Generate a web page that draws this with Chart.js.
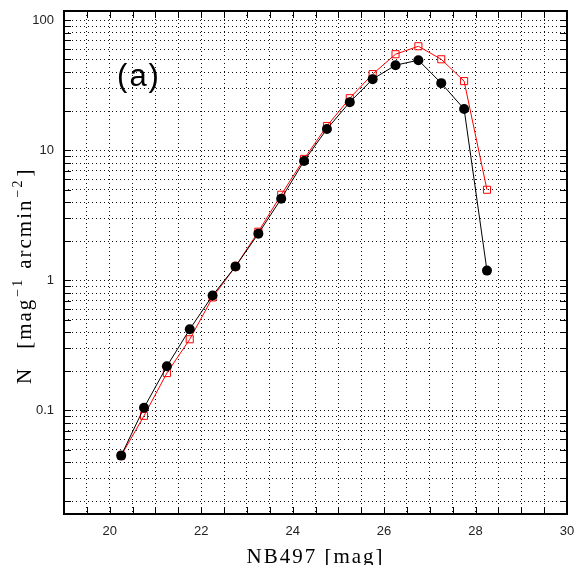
<!DOCTYPE html>
<html>
<head>
<meta charset="utf-8">
<script src="https://cdn.jsdelivr.net/npm/chart.js@4/dist/chart.umd.min.js"></script>
<style>
  html, body { margin: 0; padding: 0; background: #fff; }
</style>
</head>
<body>
<canvas id="numberCounts" width="576" height="565"></canvas>
<script>
// magnitude bins (bin centres)
const magBins = [20.25, 20.75, 21.25, 21.75, 22.25, 22.75, 23.25, 23.75, 24.25,
                 24.75, 25.25, 25.75, 26.25, 26.75, 27.25, 27.75, 28.25];

// black filled circles
const countsBlack = [0.045, 0.105, 0.219, 0.421, 0.767, 1.28, 2.29, 4.25, 8.3,
                     14.6, 23.5, 35.3, 45.2, 49.4, 32.9, 20.8, 1.19];

// red open squares
const countsRed = [0.045, 0.091, 0.194, 0.353, 0.741, 1.28, 2.37, 4.56, 8.6,
                   15.4, 25.2, 38.6, 54.9, 63.2, 50.2, 34.1, 4.98];

const xTickLabels = [20, 22, 24, 26, 28, 30];
const yTickLabels = [0.1, 1, 10, 100];
const yDecades = [0.01, 0.1, 1, 10, 100];
const ySignificands = [1, 2, 3, 4, 5, 6, 7, 8, 9];

const xMin = 19, xMax = 30;
const yMin = 0.016, yMax = 118;

const yGridValues = [];
yDecades.forEach((d) => {
    ySignificands.forEach((s) => {
        const v = +(s * d).toPrecision(3);
        if (v > yMin && v < yMax) yGridValues.push(v);
    });
});

const gridStyle = {
    color: "#111",
    lineWidth: 1,
    drawTicks: false,
};

// frame, inward ticks, axis titles and panel label
const framePlugin = {
    id: "frame",
    afterDraw(chart) {
        const { ctx, chartArea: a } = chart;
        const xs = chart.scales.x, ys = chart.scales.y;
        ctx.save();
        ctx.strokeStyle = "#000";
        ctx.lineWidth = 1;
        ctx.beginPath();
        ys.ticks.forEach((t) => {
            const y = Math.round(ys.getPixelForValue(t.value)) + 0.5;
            ctx.moveTo(a.left, y); ctx.lineTo(a.left + 7, y);
            ctx.moveTo(a.right - 7, y); ctx.lineTo(a.right, y);
        });
        xs.ticks.forEach((t) => {
            const x = Math.round(xs.getPixelForValue(t.value)) + 0.5;
            ctx.moveTo(x, a.bottom); ctx.lineTo(x, a.bottom - 7);
            ctx.moveTo(x, a.top); ctx.lineTo(x, a.top + 7);
        });
        ctx.stroke();

        ctx.lineWidth = 2;
        ctx.strokeRect(a.left, a.top, a.right - a.left, a.bottom - a.top);

        // panel label
        ctx.fillStyle = "#000";
        ctx.font = "31px 'Liberation Sans', Arial, sans-serif";
        ctx.letterSpacing = "2px";
        ctx.textAlign = "center";
        ctx.textBaseline = "middle";
        ctx.fillText("(a)", 139, 77);

        // x title
        ctx.font = "21px 'Liberation Serif', 'Times New Roman', serif";
        ctx.letterSpacing = "2px";
        ctx.textBaseline = "alphabetic";
        ctx.fillText("NB497 [mag]", (a.left + a.right) / 2, 563);

        // y title, drawn bottom to top
        ctx.translate(31, 384);
        ctx.rotate(-Math.PI / 2);
        ctx.textAlign = "left";
        const big = "21px 'Liberation Serif', 'Times New Roman', serif";
        const small = "14px 'Liberation Serif', 'Times New Roman', serif";
        const parts = [
            { t: "N", f: big, dy: 0, gap: 18 },
            { t: "[mag", f: big, dy: 0, gap: 1 },
            { t: "\u22121", f: small, dy: -9, gap: 9 },
            { t: "arcmin", f: big, dy: 0, gap: 1 },
            { t: "\u22122", f: small, dy: -9, gap: 2 },
            { t: "]", f: big, dy: 0, gap: 0 },
        ];
        let x = 0;
        parts.forEach((p) => {
            ctx.font = p.f;
            ctx.fillText(p.t, x, p.dy);
            x += ctx.measureText(p.t).width + p.gap;
        });
        ctx.restore();
    },
};

const ctx = document.getElementById("numberCounts").getContext("2d");
new Chart(ctx, {
    type: "line",
    data: {
        datasets: [
            {
                label: "black",
                data: magBins.map((m, i) => ({ x: m, y: countsBlack[i] })),
                borderColor: "#000",
                backgroundColor: "#000",
                borderWidth: 1,
                pointStyle: "circle",
                pointRadius: 5,
                pointBorderWidth: 0,
                pointBackgroundColor: "#000",
            },
            {
                label: "red",
                data: magBins.map((m, i) => ({ x: m, y: countsRed[i] })),
                borderColor: "#ff0000",
                backgroundColor: "rgba(0,0,0,0)",
                borderWidth: 1,
                pointStyle: "rect",
                pointRadius: 5,
                pointBorderWidth: 1,
                pointBackgroundColor: "rgba(255,255,255,0)",
                pointBorderColor: "#ff0000",
            },
        ],
    },
    options: {
        responsive: false,
        animation: false,
        layout: { padding: { top: 11, right: 9, left: 0, bottom: 0 } },
        plugins: { legend: { display: false }, tooltip: { enabled: false } },
        elements: { line: { tension: 0 } },
        scales: {
            x: {
                type: "linear",
                min: xMin,
                max: xMax,
                grid: { ...gridStyle },
                border: { display: false, dash: [1, 3] },
                ticks: {
                    stepSize: 0.5,
                    autoSkip: false,
                    maxRotation: 0,
                    padding: 10,
                    color: "#222",
                    font: { family: "'Liberation Sans', Arial, sans-serif", size: 13 },
                    callback: (v) => (xTickLabels.includes(v) ? String(v) : ""),
                },
                afterFit: (s) => {
                    s.height = 51;
                    s.paddingLeft = 0;
                    s.paddingRight = 0;
                },
            },
            y: {
                type: "logarithmic",
                min: yMin,
                max: yMax,
                grid: { ...gridStyle },
                border: { display: false, dash: [1, 3] },
                afterBuildTicks: (s) => {
                    s.ticks = yGridValues.map((v) => ({ value: v }));
                },
                ticks: {
                    autoSkip: false,
                    padding: 10,
                    color: "#222",
                    font: { family: "'Liberation Sans', Arial, sans-serif", size: 13 },
                    callback: (v) => (yTickLabels.includes(v) ? String(v) : ""),
                },
                afterFit: (s) => {
                    s.width = 64;
                    s.paddingTop = 0;
                    s.paddingBottom = 0;
                },
            },
        },
    },
    plugins: [framePlugin],
});
</script>
</body>
</html>
